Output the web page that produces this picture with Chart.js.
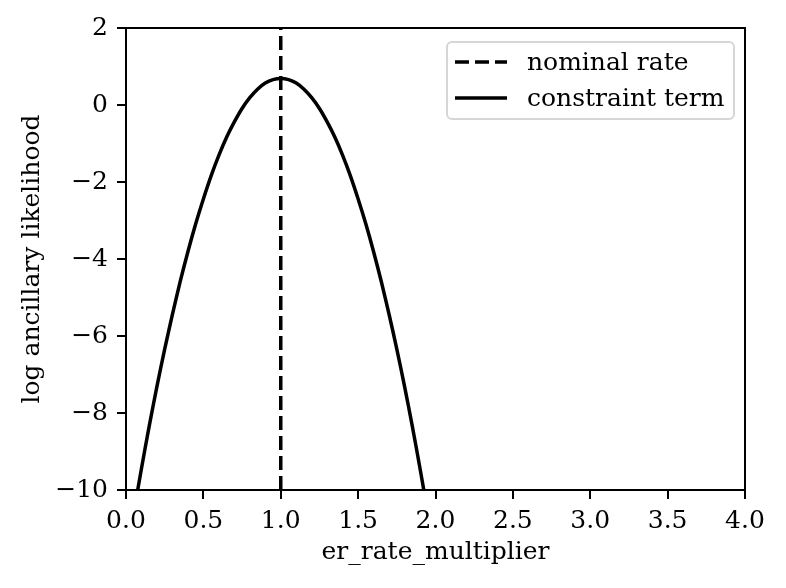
<!DOCTYPE html>
<html>
<head>
<meta charset="utf-8">
<script src="https://cdn.jsdelivr.net/npm/chart.js@4.4.1/dist/chart.umd.min.js"></script>
<style>
  html, body { margin: 0; padding: 0; background: #fff; }
  #wrap { width: 786px; height: 588px; }
</style>
</head>
<body>
<div id="wrap"><canvas id="myChart" width="786" height="588"></canvas></div>
<script>
// values
const rateMultiplier = [0.05, 0.10, 0.15, 0.20, 0.25, 0.30, 0.35, 0.40, 0.45, 0.50,
  0.55, 0.60, 0.65, 0.70, 0.75, 0.80, 0.85, 0.90, 0.95, 1.00,
  1.05, 1.10, 1.15, 1.20, 1.25, 1.30, 1.35, 1.40, 1.45, 1.50,
  1.55, 1.60, 1.65, 1.70, 1.75, 1.80, 1.85, 1.90, 1.95];
const logLikelihood = [-10.59, -9.44, -8.34, -7.31, -6.34, -5.44, -4.59, -3.81, -3.09, -2.44,
  -1.84, -1.31, -0.84, -0.44, -0.09, 0.19, 0.41, 0.57, 0.66, 0.69,
  0.66, 0.57, 0.41, 0.19, -0.09, -0.44, -0.84, -1.31, -1.84, -2.44,
  -3.09, -3.81, -4.59, -5.44, -6.34, -7.31, -8.34, -9.44, -10.59];
const nominalRate = 1.0;
const xRange = [0, 4];
const yRange = [-10, 2];
const xTickStep = 0.5;
const yTickStep = 2;

const FONT = "'DejaVu Serif', serif";
const FONT_SIZE = 25;

let ctx = document.getElementById('myChart');

let curve = rateMultiplier.map((x, i) => ({ x: x, y: logLikelihood[i] }));
let nominalLine = [{ x: nominalRate, y: yRange[0] }, { x: nominalRate, y: yRange[1] }];

// matplotlib style frame + legend inside the axes
const framePlugin = {
  id: 'frame',
  afterDatasetsDraw(chart) {
    const a = chart.chartArea;
    const c = chart.ctx;
    c.save();
    c.strokeStyle = '#000';
    c.lineWidth = 2;
    c.strokeRect(a.left, a.top, a.right - a.left, a.bottom - a.top);
    c.restore();
  },
  afterDraw(chart) {
    const c = chart.ctx;
    const a = chart.chartArea;
    const boxW = 287, boxH = 77;
    const bx = a.right - 11 - boxW, by = a.top + 14;
    c.save();
    c.beginPath();
    c.roundRect(bx, by, boxW, boxH, 5);
    c.fillStyle = 'rgba(255,255,255,0.8)';
    c.fill();
    c.strokeStyle = '#d6d6d6';
    c.lineWidth = 2;
    c.stroke();
    c.font = FONT_SIZE + 'px ' + FONT;
    c.fillStyle = '#000';
    c.textBaseline = 'middle';
    chart.data.datasets.forEach((ds, i) => {
      const y = by + 20 + i * 36;
      c.beginPath();
      c.setLineDash(ds.borderDash || []);
      c.lineWidth = ds.borderWidth;
      c.strokeStyle = ds.borderColor;
      c.moveTo(bx + 8, y);
      c.lineTo(bx + 60, y);
      c.stroke();
      c.setLineDash([]);
      c.fillText(ds.label, bx + 80, y + 1);
    });
    c.restore();
  }
};

let myChart = new Chart(ctx, {
  type: 'scatter',
  data: {
    datasets: [
      {
        label: 'nominal rate',
        data: nominalLine,
        showLine: true,
        borderColor: '#000',
        borderWidth: 3.5,
        borderDash: [14, 6],
        pointRadius: 0,
        clip: 0
      },
      {
        label: 'constraint term',
        data: curve,
        showLine: true,
        borderColor: '#000',
        borderWidth: 3.5,
        tension: 0.3,
        pointRadius: 0,
        clip: 0
      }
    ]
  },
  options: {
    responsive: false,
    animation: false,
    layout: { padding: { top: 28, right: 41, left: 0, bottom: 0 } },
    plugins: {
      legend: { display: false },
      tooltip: { enabled: false }
    },
    scales: {
      x: {
        type: 'linear',
        min: xRange[0],
        max: xRange[1],
        afterFit(scale) { scale.height = 98; },
        ticks: {
          stepSize: xTickStep,
          color: '#000',
          font: { family: FONT, size: FONT_SIZE },
          padding: 7,
          maxRotation: 0,
          callback: v => v.toFixed(1)
        },
        grid: { drawOnChartArea: false, drawTicks: true, tickLength: 9, color: '#000', lineWidth: 2 },
        border: { display: true, color: '#000', width: 2 },
        title: {
          display: true,
          text: 'er_rate_multiplier',
          color: '#000',
          font: { family: FONT, size: FONT_SIZE },
          padding: { top: 0, bottom: 21 }
        }
      },
      y: {
        type: 'linear',
        min: yRange[0],
        max: yRange[1],
        afterFit(scale) { scale.width = 126; },
        ticks: {
          stepSize: yTickStep,
          color: '#000',
          font: { family: FONT, size: FONT_SIZE },
          padding: 9,
          callback: v => String(v).replace('-', '\u2212')
        },
        grid: { drawOnChartArea: false, drawTicks: true, tickLength: 9, color: '#000', lineWidth: 2 },
        border: { display: true, color: '#000', width: 2 },
        title: {
          display: true,
          text: 'log ancillary likelihood',
          color: '#000',
          font: { family: FONT, size: FONT_SIZE },
          padding: { top: 17, bottom: 0 }
        }
      }
    }
  },
  plugins: [framePlugin]
});
</script>
</body>
</html>
